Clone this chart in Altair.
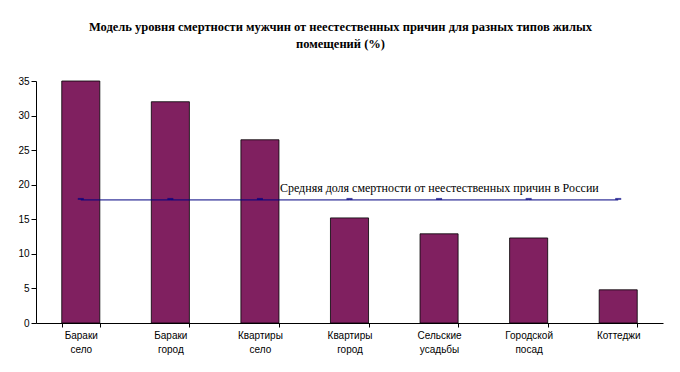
import altair as alt
import pandas as pd

categories = ["Бараки село", "Бараки город", "Квартиры село", "Квартиры город",
              "Сельские усадьбы", "Городской посад", "Коттеджи"]
values = [35.0, 32.0, 26.5, 15.2, 12.9, 12.3, 4.8]
average = [17.8] * len(categories)
avg_label = "Средняя доля смертности от неестественных причин в России"
title_lines = ["Модель уровня смертности мужчин от неестественных причин для разных типов жилых",
               "помещений (%)"]
y_ticks = [0, 5, 10, 15, 20, 25, 30, 35]

df = pd.DataFrame({"cat": categories, "val": values, "avg": average})
df_lab = pd.DataFrame({"cat": [categories[2]], "avg": [average[2]], "txt": [avg_label]})

xscale = alt.Scale(paddingInner=0.575, paddingOuter=0.2875)
xaxis = alt.Axis(labelAngle=0, labelExpr="split(datum.label, ' ')",
                 labelFont="Liberation Sans", labelFontSize=10, labelColor="black",
                 labelLineHeight=14, labelPadding=3, tickBand="extent",
                 tickSize=4, tickColor="black", domainColor="black",
                 labelBaseline="top", title=None, grid=False)
yscale = alt.Scale(domain=[0, 35], nice=False)
yaxis = alt.Axis(values=y_ticks, grid=False, labelFont="Liberation Sans", labelFontSize=10,
                 labelColor="black", tickSize=5, tickColor="black", domainColor="black",
                 labelPadding=2, title=None, labelOverlap=False)


def X():
    return alt.X("cat:N", sort=categories, scale=xscale, axis=xaxis)


def Y(field):
    return alt.Y(field, scale=yscale, axis=yaxis)


bars = alt.Chart(df).mark_bar(color="#802060", stroke="black", strokeWidth=0.8).encode(
    x=X(), y=Y("val:Q"))

line = alt.Chart(df).mark_line(color="#000080", strokeWidth=1).encode(
    x=X(), y=Y("avg:Q"))

marks = alt.Chart(df).mark_tick(color="#000080", size=6, thickness=2, yOffset=-1).encode(
    x=X(), y=Y("avg:Q"))

label = alt.Chart(df_lab).mark_text(align="left", baseline="alphabetic", dx=20, dy=-8,
                                    font="Liberation Serif", fontSize=12, color="black").encode(
    x=X(), y=Y("avg:Q"), text="txt:N")

chart = alt.layer(bars, line, marks, label).properties(
    width=627, height=242,
    background="white",
    autosize=alt.AutoSizeParams(type="none"),
    padding={"left": 28, "top": 73, "right": 9, "bottom": 41},
    title=alt.TitleParams(text=title_lines, font="Liberation Serif", fontSize=12.5,
                          fontWeight="bold", color="black", offset=26, lineHeight=17,
                          anchor="middle", dx=-9),
).configure_view(strokeWidth=0)

chart.save("out.html", embed_options={"renderer": "svg", "actions": False})
